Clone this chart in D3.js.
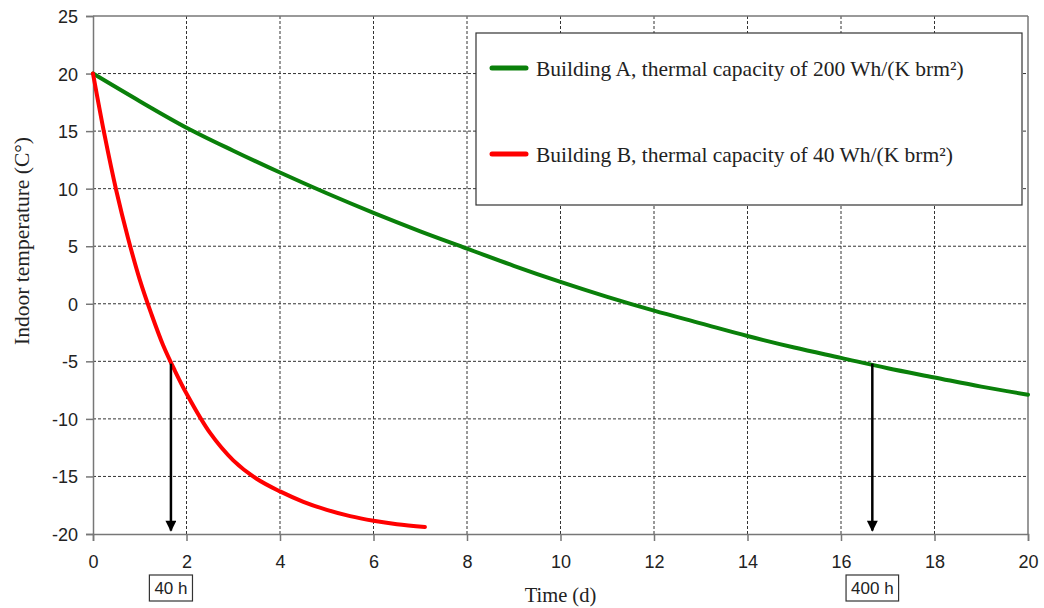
<!DOCTYPE html>
<html>
<head>
<meta charset="utf-8">
<script src="https://cdn.jsdelivr.net/npm/d3@7"></script>
<style>
  body { margin: 0; background: #fff; }
  .tick text { font-family: "Liberation Sans", Arial, sans-serif; font-size: 18px; fill: #222; }
</style>
</head>
<body>
<div id="chart"></div>
<script>
// -------- DATA --------
const daysA = [0, 1, 2, 3, 4, 5, 6, 7, 8, 9, 10, 11, 12, 13, 14, 15, 16, 17, 18, 19, 20];
const tempA = [20, 17.6, 15.3, 13.3, 11.4, 9.6, 7.9, 6.3, 4.8, 3.3, 1.9, 0.6, -0.6, -1.7, -2.8, -3.8, -4.7, -5.6, -6.4, -7.2, -7.9];

const daysB = [0, 0.25, 0.5, 0.75, 1, 1.25, 1.5, 1.75, 2, 2.5, 3, 3.5, 4, 4.5, 5, 5.5, 6, 6.5, 7.1];
const tempB = [20, 14.6, 9.8, 5.7, 2.1, -0.9, -3.6, -5.8, -7.8, -11.2, -13.6, -15.2, -16.3, -17.2, -17.9, -18.45, -18.85, -19.15, -19.4];

const seriesNames = [
  "Building A, thermal capacity of 200 Wh/(K brm\u00B2)",
  "Building B, thermal capacity of 40 Wh/(K brm\u00B2)"
];
const seriesColors = ["#0a800a", "#ff0000"];

const xTicks = [0, 2, 4, 6, 8, 10, 12, 14, 16, 18, 20];
const yTicks = [-20, -15, -10, -5, 0, 5, 10, 15, 20, 25];

// Pfeile: Zeitpunkt, an dem -5 °C erreicht werden
const markerDays = [1.667, 16.67];
const markerTemps = [-5.2, -5.2];
const markerLabels = ["40 h", "400 h"];

// -------- LAYOUT --------
const width = 1044, height = 608;
const margins = {top: 16, right: 16, bottom: 74, left: 93};

const svg = d3.select("#chart").append("svg")
  .attr("width", width)
  .attr("height", height);

const xScale = d3.scaleLinear().domain([0, 20]).range([margins.left, width - margins.right]);
const yScale = d3.scaleLinear().domain([-20, 25]).range([height - margins.bottom, margins.top]);

const x0 = xScale.range()[0], x1 = xScale.range()[1];
const yTop = yScale.range()[1], yBot = yScale.range()[0];

// Gitter (gestrichelt)
const grid = svg.append("g").attr("class", "grid");
grid.selectAll("line.gx")
  .data(xTicks.filter(d => d > 0 && d < 20))
  .join("line")
    .attr("x1", d => xScale(d)).attr("x2", d => xScale(d))
    .attr("y1", yTop).attr("y2", yBot)
    .attr("stroke", "#333").attr("stroke-width", 1).attr("stroke-dasharray", "3,2");
grid.selectAll("line.gy")
  .data(yTicks.filter(d => d > -20 && d < 25))
  .join("line")
    .attr("x1", x0).attr("x2", x1)
    .attr("y1", d => yScale(d)).attr("y2", d => yScale(d))
    .attr("stroke", "#333").attr("stroke-width", 1).attr("stroke-dasharray", "3,2");

// Rahmen oben / rechts
svg.append("line").attr("x1", x0).attr("x2", x1).attr("y1", yTop).attr("y2", yTop)
  .attr("stroke", "#777").attr("stroke-width", 1.5);
svg.append("line").attr("x1", x1).attr("x2", x1).attr("y1", yTop).attr("y2", yBot)
  .attr("stroke", "#777").attr("stroke-width", 1.5);

// Achsen (Bindestrich statt Unicode-Minus wie im Original)
const fmt = d => String(d);
const xAxisG = svg.append("g")
  .attr("transform", `translate(0, ${yBot})`)
  .call(d3.axisBottom(xScale).tickValues(xTicks).tickSize(7).tickPadding(14).tickFormat(fmt));
const yAxisG = svg.append("g")
  .attr("transform", `translate(${x0}, 0)`)
  .call(d3.axisLeft(yScale).tickValues(yTicks).tickSize(7).tickPadding(8).tickFormat(fmt));

[xAxisG, yAxisG].forEach(g => {
  g.select(".domain").attr("stroke", "#777").attr("stroke-width", 1.5);
  g.selectAll(".tick line").attr("stroke", "#777").attr("stroke-width", 1.5);
});
yAxisG.selectAll(".tick text").attr("dy", "0.36em");

// Achsentitel
svg.append("text")
  .attr("transform", `translate(29, 241) rotate(-90)`)
  .attr("text-anchor", "middle")
  .style("font-family", "'Liberation Serif', 'Times New Roman', serif")
  .style("font-size", "21.5px")
  .attr("fill", "#222")
  .text("Indoor temperature (C\u00B0)");

svg.append("text")
  .attr("x", (x0 + x1) / 2)
  .attr("y", 602)
  .attr("text-anchor", "middle")
  .style("font-family", "'Liberation Serif', 'Times New Roman', serif")
  .style("font-size", "20.5px")
  .attr("fill", "#222")
  .text("Time (d)");

// Kurven
const line = d3.line()
  .x(d => xScale(d[0]))
  .y(d => yScale(d[1]))
  .curve(d3.curveCatmullRom);

const seriesData = [
  daysA.map((d, i) => [d, tempA[i]]),
  daysB.map((d, i) => [d, tempB[i]])
];

svg.append("g").selectAll("path")
  .data(seriesData)
  .join("path")
    .attr("d", line)
    .attr("fill", "none")
    .attr("stroke", (d, i) => seriesColors[i])
    .attr("stroke-width", 4)
    .attr("stroke-linecap", "round")
    .attr("stroke-linejoin", "round");

// Pfeile
svg.append("defs").append("marker")
  .attr("id", "arrow")
  .attr("viewBox", "0 0 10 10")
  .attr("refX", 9).attr("refY", 5)
  .attr("markerWidth", 13).attr("markerHeight", 11)
  .attr("markerUnits", "userSpaceOnUse")
  .attr("orient", "auto")
  .append("path")
    .attr("d", "M0,0 L10,5 L0,10 z")
    .attr("fill", "#000");

svg.append("g").selectAll("line")
  .data(markerDays)
  .join("line")
    .attr("x1", d => xScale(d)).attr("x2", d => xScale(d))
    .attr("y1", (d, i) => yScale(markerTemps[i]))
    .attr("y2", yScale(-19.7))
    .attr("stroke", "#000")
    .attr("stroke-width", 2.5)
    .attr("marker-end", "url(#arrow)");

// Beschriftete Kästchen unter der Achse
const labelG = svg.append("g").selectAll("g")
  .data(markerDays)
  .join("g")
    .attr("transform", d => `translate(${xScale(d)}, 588)`);

labelG.append("text")
  .attr("text-anchor", "middle")
  .attr("dy", "0.36em")
  .style("font-family", "'Liberation Sans', Arial, sans-serif")
  .style("font-size", "17px")
  .attr("fill", "#222")
  .text((d, i) => markerLabels[i]);

labelG.each(function() {
  const g = d3.select(this);
  const bb = g.select("text").node().getBBox();
  g.insert("rect", "text")
    .attr("x", bb.x - 5).attr("y", -13)
    .attr("width", bb.width + 10).attr("height", 26)
    .attr("fill", "#fff")
    .attr("stroke", "#333").attr("stroke-width", 1.2);
});

// Legende
const legend = svg.append("g").attr("transform", "translate(476, 33)");
legend.append("rect")
  .attr("width", 546).attr("height", 172)
  .attr("fill", "#fff")
  .attr("stroke", "#333").attr("stroke-width", 1.2);

const legendItems = legend.selectAll("g.item")
  .data(seriesNames)
  .join("g")
    .attr("class", "item")
    .attr("transform", (d, i) => `translate(0, ${i === 0 ? 35 : 121})`);

legendItems.append("line")
  .attr("x1", 16).attr("x2", 50)
  .attr("stroke", (d, i) => seriesColors[i])
  .attr("stroke-width", 5)
  .attr("stroke-linecap", "round");

legendItems.append("text")
  .attr("x", 60)
  .attr("dy", "0.35em")
  .style("font-family", "'Liberation Serif', 'Times New Roman', serif")
  .style("font-size", "21.5px")
  .attr("fill", "#222")
  .text(d => d);
</script>
</body>
</html>
